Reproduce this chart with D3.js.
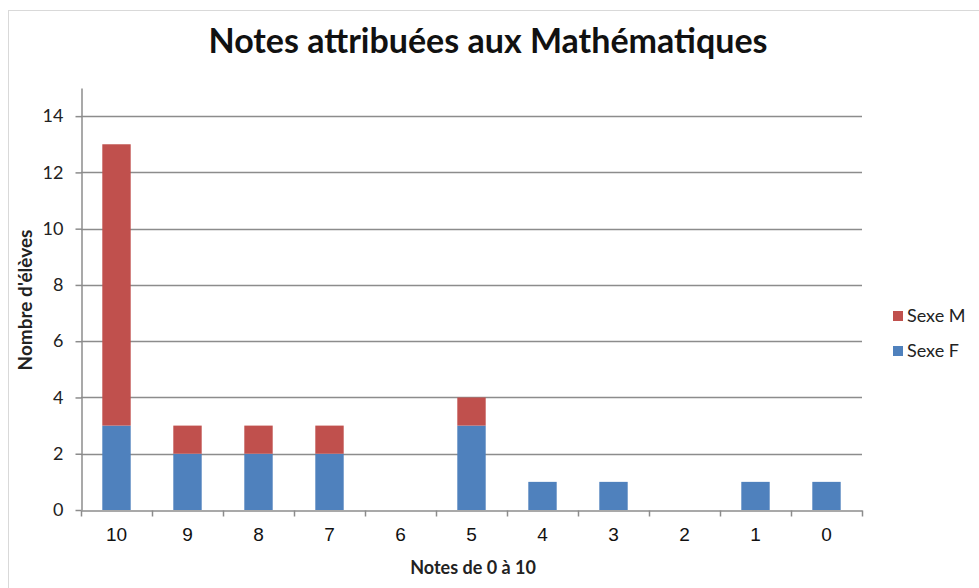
<!DOCTYPE html>
<html>
<head>
<meta charset="utf-8">
<script src="https://cdn.jsdelivr.net/npm/d3@7"></script>
<style>
  body { margin: 0; background: #fff; }
  svg { display: block; }
</style>
</head>
<body>
<script>
  var notes = ['10', '9', '8', '7', '6', '5', '4', '3', '2', '1', '0'];
  var sexeF = [3, 2, 2, 2, 0, 3, 1, 1, 0, 1, 1];
  var sexeM = [10, 1, 1, 1, 0, 1, 0, 0, 0, 0, 0];
  var yTicks = [0, 2, 4, 6, 8, 10, 12, 14];
  var series = ['Sexe F', 'Sexe M'];

  var width = 979;
  var height = 588;
  var plot = {left: 81, right: 862, top: 88, bottom: 510};
  var colors = {'Sexe F': '#4f81bd', 'Sexe M': '#c0504d'};

  var svg = d3.select('body').append('svg')
    .attr('width', width)
    .attr('height', height);

  // frame
  svg.append('rect')
    .attr('x', 8.5).attr('y', 10.5)
    .attr('width', 980).attr('height', 590)
    .attr('fill', 'none')
    .attr('stroke', '#d9d9d9');

  var table = notes.map(function(n, i) {
    return {note: n, 'Sexe F': sexeF[i], 'Sexe M': sexeM[i]};
  });
  var stacked = d3.stack().keys(series)(table);

  // scales
  var xScale = d3.scaleBand()
    .domain(notes)
    .range([plot.left, plot.right])
    .paddingInner(0.6)
    .paddingOuter(0.3);
  var yScale = d3.scaleLinear()
    .domain([0, 15])
    .range([plot.bottom, plot.top]);

  // gridlines
  svg.append('g').selectAll('line')
    .data(yTicks.filter(d => d > 0))
    .enter().append('line')
    .attr('x1', plot.left).attr('x2', plot.right)
    .attr('y1', d => Math.round(yScale(d)) + 0.5)
    .attr('y2', d => Math.round(yScale(d)) + 0.5)
    .attr('stroke', '#8c8c8c')
    .attr('stroke-width', 1.5);

  // bars
  svg.append('g').selectAll('g')
    .data(stacked)
    .enter().append('g')
    .attr('fill', d => colors[d.key])
    .selectAll('rect')
    .data(d => d)
    .enter().append('rect')
    .attr('x', d => xScale(d.data.note))
    .attr('width', xScale.bandwidth())
    .attr('y', d => yScale(d[1]))
    .attr('height', d => yScale(d[0]) - yScale(d[1]));

  // y axis
  var yAxis = svg.append('g')
    .attr('transform', 'translate(' + (plot.left + 0.5) + ',0)')
    .call(d3.axisLeft(yScale).tickValues(yTicks).tickSize(6).tickPadding(12).tickSizeOuter(0));
  yAxis.select('.domain').attr('stroke', '#8c8c8c').attr('stroke-width', 1.5);
  yAxis.selectAll('.tick line').attr('stroke', '#8c8c8c').attr('stroke-width', 1.5);
  yAxis.selectAll('.tick text')
    .attr('font-family', 'Lato, "Open Sans", sans-serif')
    .attr('font-size', 18)
    .attr('fill', '#222');

  // x axis
  var xAxis = svg.append('g')
    .attr('transform', 'translate(0,' + (plot.bottom + 0.5) + ')')
    .call(d3.axisBottom(xScale).tickSize(0).tickPadding(17));
  xAxis.select('.domain').attr('stroke', '#8c8c8c').attr('stroke-width', 1.5);
  xAxis.selectAll('.tick text')
    .attr('font-family', '"Liberation Sans", Arial, sans-serif')
    .attr('font-size', 19)
    .attr('fill', '#111');
  // category boundary ticks
  xAxis.append('g').selectAll('line')
    .data(d3.range(notes.length + 1))
    .enter().append('line')
    .attr('x1', i => Math.round(plot.left + i * (plot.right - plot.left) / notes.length) + 0.5)
    .attr('x2', i => Math.round(plot.left + i * (plot.right - plot.left) / notes.length) + 0.5)
    .attr('y1', 0).attr('y2', 6)
    .attr('stroke', '#8c8c8c')
    .attr('stroke-width', 1.5);

  // title
  svg.append('text')
    .attr('x', 488).attr('y', 53)
    .attr('text-anchor', 'middle')
    .attr('font-family', 'Lato, "Open Sans", sans-serif')
    .attr('font-weight', 'bold')
    .attr('font-size', 34)
    .attr('fill', '#111')
    .text('Notes attribuées aux Mathématiques');

  // axis titles
  svg.append('text')
    .attr('transform', 'translate(32,300) rotate(-90)')
    .attr('text-anchor', 'middle')
    .attr('font-family', 'Lato, "Open Sans", sans-serif')
    .attr('font-weight', 'bold')
    .attr('font-size', 19)
    .attr('fill', '#222')
    .text("Nombre d'élèves");
  svg.append('text')
    .attr('x', 473).attr('y', 574)
    .attr('text-anchor', 'middle')
    .attr('font-family', 'Lato, "Open Sans", sans-serif')
    .attr('font-weight', 'bold')
    .attr('font-size', 18)
    .attr('fill', '#222')
    .text('Notes de 0 à 10');

  // legend
  var legend = svg.append('g').selectAll('g')
    .data(['Sexe M', 'Sexe F'])
    .enter().append('g')
    .attr('transform', (d, i) => 'translate(893,' + (311 + i * 35) + ')');
  legend.append('rect')
    .attr('width', 10).attr('height', 10)
    .attr('fill', d => colors[d]);
  legend.append('text')
    .attr('x', 14).attr('y', 11)
    .attr('font-family', 'Lato, "Open Sans", sans-serif')
    .attr('font-size', 18)
    .attr('fill', '#222')
    .text(d => d);
</script>
</body>
</html>
